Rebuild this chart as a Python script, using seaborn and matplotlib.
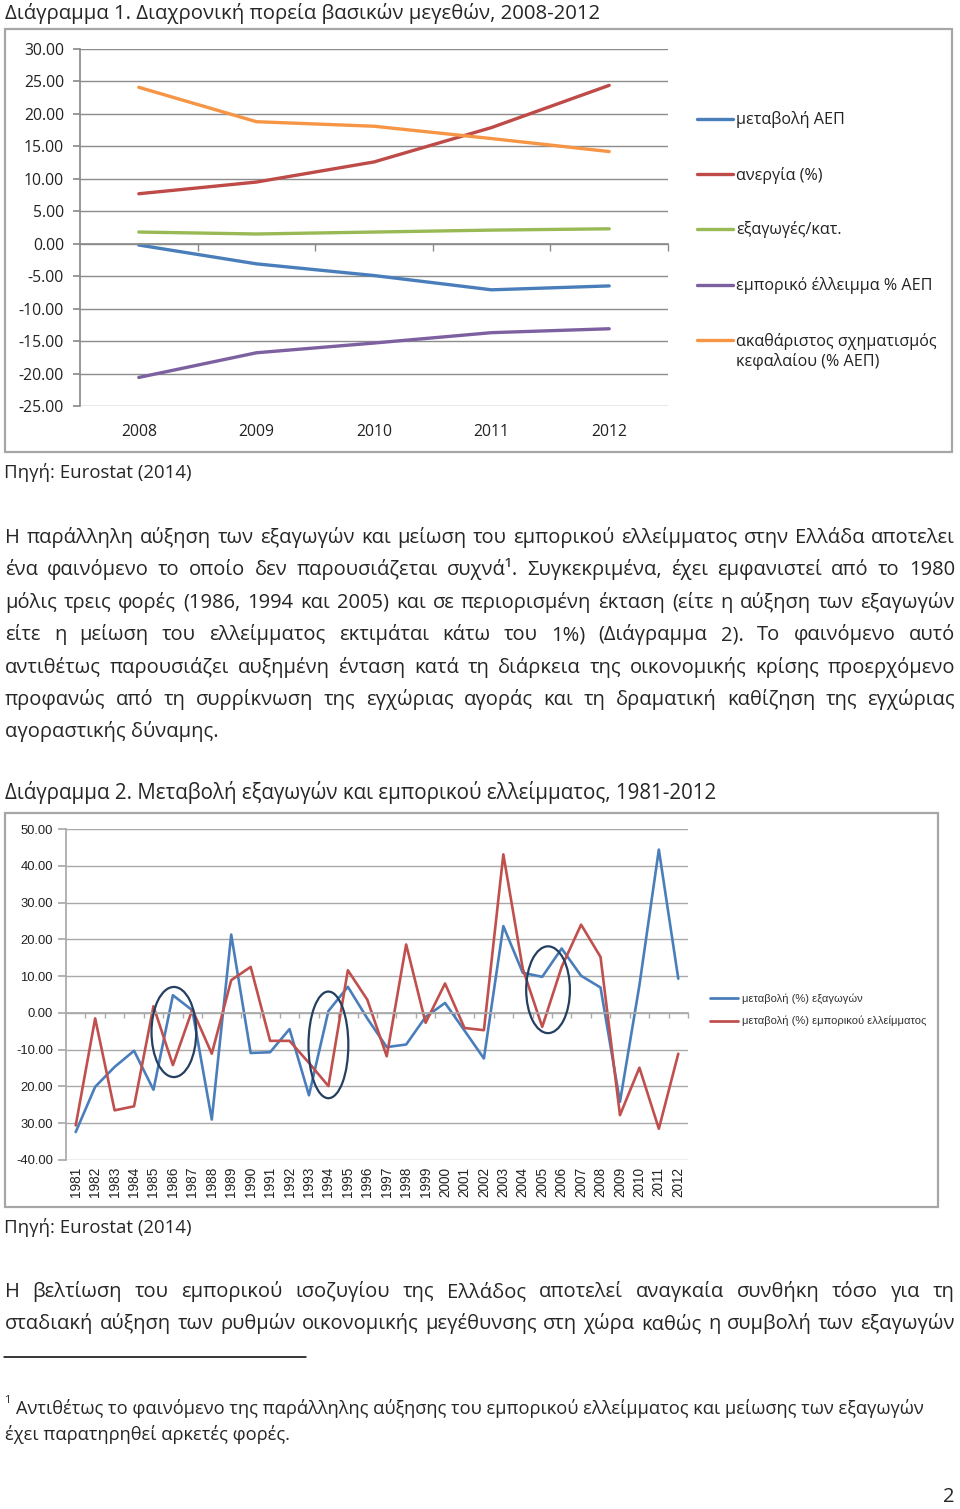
import matplotlib
matplotlib.use("Agg")
import matplotlib.pyplot as plt
import seaborn as sns
import pandas as pd
from matplotlib.patches import Rectangle, Ellipse
from matplotlib.lines import Line2D

# ---------------- data: chart 1 ----------------
years1 = ["2008", "2009", "2010", "2011", "2012"]
gdp_change = [-0.2, -3.1, -4.9, -7.1, -6.5]
unemployment = [7.7, 9.5, 12.6, 17.9, 24.4]
exports_per_cap = [1.8, 1.5, 1.8, 2.1, 2.3]
trade_deficit_gdp = [-20.6, -16.8, -15.3, -13.7, -13.1]
gross_capital = [24.1, 18.8, 18.1, 16.2, 14.2]
series1_names = ["μεταβολή ΑΕΠ", "ανεργία (%)", "εξαγωγές/κατ.",
                 "εμπορικό έλλειμμα % ΑΕΠ",
                 "ακαθάριστος σχηματισμός\nκεφαλαίου (% ΑΕΠ)"]
y1_ticks = [30, 25, 20, 15, 10, 5, 0, -5, -10, -15, -20, -25]

# ---------------- data: chart 2 ----------------
years2 = [str(y) for y in range(1981, 2013)]
exports_change = [-32.4, -20.1, -14.7, -10.3, -20.9, 4.8, 0.7, -29.0, 21.3, -10.9,
                  -10.7, -4.4, -22.4, 0.5, 7.1, -1.5, -9.3, -8.6, -1.1, 2.7,
                  -4.8, -12.4, 23.6, 10.9, 9.8, 17.5, 10.1, 6.9, -24.2, 7.5,
                  44.4, 9.3]
deficit_change = [-30.6, -1.5, -26.5, -25.4, 1.8, -14.2, 0.9, -11.1, 8.9, 12.5,
                  -7.6, -7.6, -13.6, -19.9, 11.6, 3.6, -11.8, 18.6, -2.7, 8.0,
                  -4.1, -4.7, 43.1, 12.0, -3.8, 12.5, 24.0, 15.2, -27.8, -14.9,
                  -31.5, -11.1]
series2_names = ["μεταβολή (%) εξαγωγών", "μεταβολή (%) εμπορικού ελλείμματος"]
y2_ticks = [50, 40, 30, 20, 10, 0, -10, -20, -30, -40]
y2_tick_labels = ["50.00", "40.00", "30.00", "20.00", "10.00", "0.00",
                  "-10.00", "20.00", "30.00", "-40.00"]
highlight_years = ["1986", "1994", "2005"]
highlight_centers = [-5.2, -8.7, 6.3]

# ---------------- text ----------------
title1 = "Διάγραμμα 1. Διαχρονική πορεία βασικών μεγεθών, 2008-2012"
title2 = "Διάγραμμα 2. Μεταβολή εξαγωγών και εμπορικού ελλείμματος, 1981-2012"
source = "Πηγή: Eurostat (2014)"
para1 = [
    "Η παράλληλη αύξηση των εξαγωγών και μείωση του εμπορικού ελλείμματος στην Ελλάδα αποτελει",
    "ένα φαινόμενο το οποίο δεν παρουσιάζεται συχνά¹. Συγκεκριμένα, έχει εμφανιστεί από το 1980",
    "μόλις τρεις φορές (1986, 1994 και 2005) και σε περιορισμένη έκταση (είτε η αύξηση των εξαγωγών",
    "είτε η μείωση του ελλείμματος εκτιμάται κάτω του 1%) (Διάγραμμα 2). Το φαινόμενο αυτό",
    "αντιθέτως παρουσιάζει αυξημένη ένταση κατά τη διάρκεια της οικονομικής κρίσης προερχόμενο",
    "προφανώς από τη συρρίκνωση της εγχώριας αγοράς και τη δραματική καθίζηση της εγχώριας",
    "αγοραστικής δύναμης.",
]
para2 = [
    "Η βελτίωση του εμπορικού ισοζυγίου της Ελλάδος αποτελεί αναγκαία συνθήκη τόσο για τη",
    "σταδιακή αύξηση των ρυθμών οικονομικής μεγέθυνσης στη χώρα καθώς η συμβολή των εξαγωγών",
]
footnote = [
    "Αντιθέτως το φαινόμενο της παράλληλης αύξησης του εμπορικού ελλείμματος και μείωσης των εξαγωγών",
    "έχει παρατηρηθεί αρκετές φορές.",
]

# ---------------- setup ----------------
W, H = 960, 1509
sns.set_theme(style="white")
plt.rcParams["font.family"] = ["Open Sans", "DejaVu Sans"]
fig = plt.figure(figsize=(W / 100, H / 100), dpi=100)
fig.patch.set_facecolor("white")
R = fig.canvas.get_renderer()
BODY = ["Open Sans", "DejaVu Sans"]
ARIAL = ["Liberation Sans", "DejaVu Sans"]


def fy(y):
    return 1 - y / H


def axrect(l, t, r, b):
    return [l / W, 1 - b / H, (r - l) / W, (b - t) / H]


def measure(s, size, family):
    t = fig.text(0, 0, s, fontsize=size, family=family)
    w = t.get_window_extent(R).width
    t.remove()
    return w


def fit_size(s, target, family):
    return 10 * target / measure(s, 10, family)


def put(x, y, s, size, family=BODY, **kw):
    return fig.text(x / W, fy(y), s, fontsize=size, family=family, va="baseline", **kw)


def justify(line, y, size, x0=5, x1=955, family=BODY):
    words = line.split(" ")
    widths = [measure(w, size, family) for w in words]
    px = size / 72 * 100
    need = sum(widths) + 0.22 * px * (len(words) - 1)
    if need > x1 - x0:
        size = size * (x1 - x0) / need
        widths = [measure(w, size, family) for w in words]
    gap = (x1 - x0 - sum(widths)) / (len(words) - 1)
    x = x0
    for w, wd in zip(words, widths):
        put(x, y, w, size, family)
        x += wd + gap


# frames
for (l, t, r, b) in [(5, 29, 952, 452), (5, 813, 938, 1207)]:
    fig.add_artist(Rectangle((l / W, fy(b)), (r - l) / W, (b - t) / H,
                             transform=fig.transFigure, fill=False,
                             ec="#a6a6a6", lw=1.6))

GRID1 = "#8c8c8c"
GRID2 = "#a9a9a9"

# ---------------- chart 1 ----------------
colors1 = ["#4A7EBB", "#BE4B48", "#98B954", "#7D60A0", "#F69545"]
vals1 = [gdp_change, unemployment, exports_per_cap, trade_deficit_gdp, gross_capital]
df1 = pd.DataFrame([
    {"pos": i, "year": years1[i], "value": v, "series": name}
    for name, vals in zip(series1_names, vals1) for i, v in enumerate(vals)
])
ax1 = fig.add_axes(axrect(80, 49, 668, 406))
sns.lineplot(data=df1, x="pos", y="value", hue="series", palette=colors1,
             linewidth=2.4, legend=False, ax=ax1, sort=False)
ax1.set_xlim(-0.5, 4.5)
ax1.set_ylim(-25, 30)
ax1.set_xlabel("")
ax1.set_ylabel("")
ax1.set_yticks(y1_ticks)
ax1.set_yticklabels([f"{v:.2f}" for v in y1_ticks], fontsize=11.3, family=BODY)
ax1.yaxis.grid(True, color=GRID1, lw=1.0)
ax1.set_axisbelow(True)
for s in ["top", "right"]:
    ax1.spines[s].set_visible(False)
ax1.spines["left"].set_color(GRID1)
ax1.spines["bottom"].set_color(GRID1)
ax1.spines["bottom"].set_position(("data", 0))
ax1.tick_params(axis="y", length=5, color=GRID1, pad=6.5, left=True, labelcolor="#222222")
ax1.set_xticks([])
ax1.set_xticks([0.5, 1.5, 2.5, 3.5, 4.5], minor=True)
ax1.tick_params(axis="x", which="minor", length=5, color=GRID1, direction="out", bottom=True)
sec1 = ax1.secondary_xaxis(0)
sec1.set_xticks(range(len(years1)), labels=years1)
sec1.tick_params(length=0, pad=13, labelsize=11.3, labelcolor="#222222")
sec1.spines["bottom"].set_visible(False)
for lab in sec1.get_xticklabels():
    lab.set_family(BODY)

# legend chart 1 (manual)
leg_size = fit_size("εμπορικό έλλειμμα % ΑΕΠ", 196, BODY)
leg_y = [119, 174, 229, 285, 340]
for name, col, y in zip(series1_names, colors1, leg_y):
    fig.add_artist(Line2D([697 / W, 733 / W], [fy(y), fy(y)], color=col, lw=2.4,
                          transform=fig.transFigure))
    for k, part in enumerate(name.split("\n")):
        put(736, y + 5.5 + 21 * k, part, leg_size, color="#222222")

# ---------------- chart 2 ----------------
colors2 = ["#4A7EBB", "#C0504D"]
df2 = pd.DataFrame([
    {"pos": i, "year": years2[i], "value": v, "series": name}
    for name, vals in zip(series2_names, [exports_change, deficit_change])
    for i, v in enumerate(vals)
])
ax2 = fig.add_axes(axrect(66, 829, 688, 1160))
sns.lineplot(data=df2, x="pos", y="value", hue="series", palette=colors2,
             linewidth=1.9, legend=False, ax=ax2, sort=False)
ax2.set_xlim(-0.5, len(years2) - 0.5)
ax2.set_ylim(-40, 50)
ax2.set_xlabel("")
ax2.set_ylabel("")
ax2.set_yticks(y2_ticks)
ax2.set_yticklabels(y2_tick_labels, fontsize=9.4, family=ARIAL)
ax2.yaxis.grid(True, color=GRID2, lw=1.0)
ax2.set_axisbelow(True)
for s in ["top", "right"]:
    ax2.spines[s].set_visible(False)
ax2.spines["left"].set_color(GRID2)
ax2.spines["bottom"].set_color(GRID2)
ax2.spines["bottom"].set_position(("data", 0))
ax2.tick_params(axis="y", length=6, color=GRID2, pad=3.5, left=True, labelcolor="#222222")
ax2.set_xticks([])
ax2.set_xticks([i + 0.5 for i in range(len(years2))], minor=True)
ax2.tick_params(axis="x", which="minor", length=3.5, color=GRID2, direction="out", bottom=True)
sec2 = ax2.secondary_xaxis(0)
sec2.set_xticks(range(len(years2)), labels=years2)
sec2.tick_params(length=0, pad=5, labelsize=9.8, labelrotation=90, labelcolor="#222222")
sec2.spines["bottom"].set_visible(False)
for lab in sec2.get_xticklabels():
    lab.set_family(ARIAL)

# highlight ellipses (1986, 1994, 2005)
ell_dx = [0.05, 0.0, 0.3]
ell_w = [2.3, 2.05, 2.25]
ell_h = [24.5, 29.0, 23.6]
for yr, cy, dx, ew, eh in zip(highlight_years, highlight_centers, ell_dx, ell_w, ell_h):
    cx = years2.index(yr) + dx
    ax2.add_patch(Ellipse((cx, cy), ew, eh, fill=False, ec="#243F60", lw=1.6, zorder=5))

# legend chart 2 (manual)
leg2_size = fit_size(series2_names[1], 183, ARIAL)
for name, col, y in zip(series2_names, colors2, [998, 1021]):
    fig.add_artist(Line2D([710 / W, 738 / W], [fy(y), fy(y)], color=col, lw=2.0,
                          transform=fig.transFigure))
    put(742, y + 3.5, name, leg2_size, family=ARIAL, color="#333333")

# ---------------- page text ----------------
put(5, 18.5, title1, fit_size(title1, 596, BODY))
put(5, 798.5, title2, fit_size(title2, 710, BODY))
src_size = fit_size(source, 187, BODY)
put(4, 478, source, src_size)
put(4, 1233, source, src_size)

body_size = fit_size(para1[-1], 213, BODY)
y = 543
for i, line in enumerate(para1):
    if i < len(para1) - 1:
        justify(line, y, body_size)
    else:
        put(5, y, line, body_size)
    y += 32.4

y = 1297
for line in para2:
    justify(line, y, body_size)
    y += 32.4

fig.add_artist(Line2D([4 / W, 306 / W], [fy(1357), fy(1357)], color="black", lw=1.1,
                      transform=fig.transFigure))
fn_size = fit_size(footnote[0], 907, BODY)
put(5, 1403, "1", fn_size * 0.6)
put(16, 1414, footnote[0], fn_size)
put(5, 1440, footnote[1], fn_size)
put(955, 1502.5, "2", body_size, ha="right")

fig.savefig("out.png", dpi=100, facecolor="white")
